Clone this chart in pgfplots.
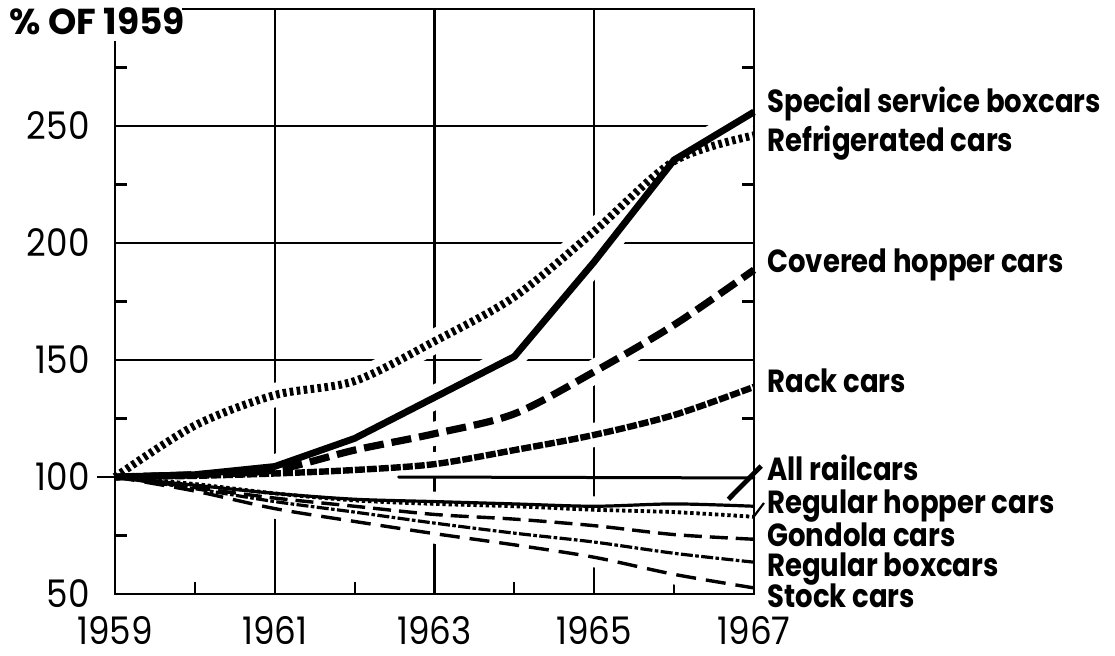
\documentclass[border=0pt]{standalone}
\usepackage{fontspec}
\setmainfont{Poppins}[FakeStretch=0.9]
\newfontfamily\lblfont{Poppins}[FakeStretch=0.86]
\newfontfamily\titlefont{Poppins}
\usepackage{pgfplots}
\usepackage{pgfplotstable}
\pgfplotsset{compat=1.18}

\pgfplotstableread{
year special refrig covered rack  allrail reghop gondola regbox stock
1959 100     100    100     100   100     100    100     100    100
1960 101     122    101     100.5 96.5    97     95.5    95     94
1961 104.5   135    103     101.5 93      93     91      89.5   86.5
1962 116.5   141    111.5   103   90.5    90     87.5    85     81
1963 134     158    118.5   105.5 89.5    88.5   84      80.3   75.8
1964 151.5   177    127     111.5 88.5    87.5   82      76     71
1965 192     205    145     118   87.5    86     79.2    72.2   65.7
1966 235.5   235    165     126.5 88.5    85     75.4    67.4   58.4
1967 256     246    188.5   138.5 87.5    83     73.4    63.6   52.6
}\datatable

\tikzset{
  lbl/.style={anchor=base west, inner sep=0pt, xshift=6.5pt, font=\lblfont\bfseries\fontsize{16}{16}\selectfont},
}

\begin{document}
\begin{tikzpicture}
\path[use as bounding box] (-57.5pt,-30.5pt) rectangle (500pt,297pt);
\begin{axis}[
  at={(0pt,0pt)}, anchor=south west,
  scale only axis, width=319.5pt, height=292.5pt,
  xmin=1959, xmax=1967, ymin=50, ymax=300,
  clip=false,
  axis line style={draw=none},
  xtick={1959,1961,1963,1965,1967},
  xticklabels={1959,1961,1963,1965,1967},
  ytick={50,100,150,200,250},
  yticklabels={50,100,150,200,250},
  minor xtick={1960,1962,1964,1966},
  minor ytick={75,125,175,225,275},
  major tick length=0pt, minor tick length=6pt,
  tick align=inside,
  xtick pos=left, ytick pos=both,
  every minor tick/.append style={black, line width=1.1pt},
  tick label style={font=\fontsize{19}{19}\selectfont, text=black},
  xticklabel style={inner sep=0pt, anchor=north, yshift=-11pt},
  yticklabel style={inner sep=0pt, anchor=east, xshift=-12.5pt},
  grd/.style={black, line width=1.1pt, forget plot},
  halo/.style={white, forget plot},
  frm/.style={black, line width=1.2pt, forget plot},
]
% grid lines first (drawn as plots so that the order is kept)
\addplot[grd] coordinates {(1961,50) (1961,300)};
\addplot[grd] coordinates {(1963,50) (1963,300)};
\addplot[grd] coordinates {(1965,50) (1965,300)};
\addplot[grd] coordinates {(1959,150) (1967,150)};
\addplot[grd] coordinates {(1959,200) (1967,200)};
\addplot[grd] coordinates {(1959,250) (1967,250)};
% white halos that break the grid where the lines pass
\addplot[halo, line width=12pt] table[x=year,y=special]{\datatable};
\addplot[halo, line width=12pt, smooth] table[x=year,y=refrig]{\datatable};
\addplot[halo, line width=12pt, smooth] table[x=year,y=covered]{\datatable};
\addplot[halo, line width=12pt, smooth] table[x=year,y=rack]{\datatable};
\addplot[halo, line width=10pt, smooth] table[x=year,y=allrail]{\datatable};
\addplot[halo, line width=10pt, smooth] table[x=year,y=reghop]{\datatable};
\addplot[halo, line width=10pt, smooth] table[x=year,y=gondola]{\datatable};
\addplot[halo, line width=10pt, smooth] table[x=year,y=regbox]{\datatable};
\addplot[halo, line width=10pt, smooth] table[x=year,y=stock]{\datatable};
% the 100 reference line, visible right of the bundle
\addplot[black, line width=1.5pt, line cap=round, forget plot] coordinates {(1962.55,100) (1967,99.6)};
% series
\addplot[black, line width=3.4pt] table[x=year,y=special]{\datatable};
\addplot[black, line width=4pt, dash pattern=on 1.8pt off 1.7pt, smooth] table[x=year,y=refrig]{\datatable};
\addplot[black, line width=3.6pt, dash pattern=on 10pt off 4pt, smooth] table[x=year,y=covered]{\datatable};
\addplot[black, line width=3.2pt, dash pattern=on 5pt off 1pt, smooth] table[x=year,y=rack]{\datatable};
\addplot[black, line width=1.9pt, dash pattern=on 1.7pt off 1.4pt, smooth] table[x=year,y=reghop]{\datatable};
\addplot[black, line width=1.6pt, smooth] table[x=year,y=allrail]{\datatable};
\addplot[black, line width=1.7pt, dash pattern=on 9pt off 4pt, smooth] table[x=year,y=gondola]{\datatable};
\addplot[black, line width=1.6pt, dash pattern=on 6pt off 1.2pt on 1.8pt off 1.2pt, smooth] table[x=year,y=regbox]{\datatable};
\addplot[black, line width=1.7pt, dash pattern=on 10pt off 5pt, smooth] table[x=year,y=stock]{\datatable};
% frame (open at the top left, where the title sits) and the outer tick at 100
\addplot[frm, line cap=rect] coordinates {(1959,286) (1959,50) (1967,50) (1967,300) (1959.85,300)};
\addplot[frm] coordinates {(1958.775,100) (1959,100)};
% leaders
\addplot[black, line width=2.4pt, forget plot] coordinates {(1967.09,104.7) (1966.68,90.5)};
\addplot[black, line width=1.1pt, forget plot] coordinates {(1967.125,88.9) (1967.0,83.2)};
% title and series labels
\node[anchor=west, inner sep=0pt, font=\titlefont\bfseries\fontsize{18}{18}\selectfont] at (rel axis cs:-0.166,0.979) {\% OF 1959};
\node[lbl] at (axis cs:1967,255.6) {Special service boxcars};
\node[lbl] at (axis cs:1967,239.3) {Refrigerated cars};
\node[lbl] at (axis cs:1967,187.2) {Covered hopper cars};
\node[lbl] at (axis cs:1967,136.3) {Rack cars};
\node[lbl] at (axis cs:1967,98.7) {All railcars};
\node[lbl] at (axis cs:1967,84.6) {Regular hopper cars};
\node[lbl] at (axis cs:1967,70.5) {Gondola cars};
\node[lbl] at (axis cs:1967,57.6) {Regular boxcars};
\node[lbl] at (axis cs:1967,44.4) {Stock cars};
\end{axis}
\end{tikzpicture}
\end{document}
